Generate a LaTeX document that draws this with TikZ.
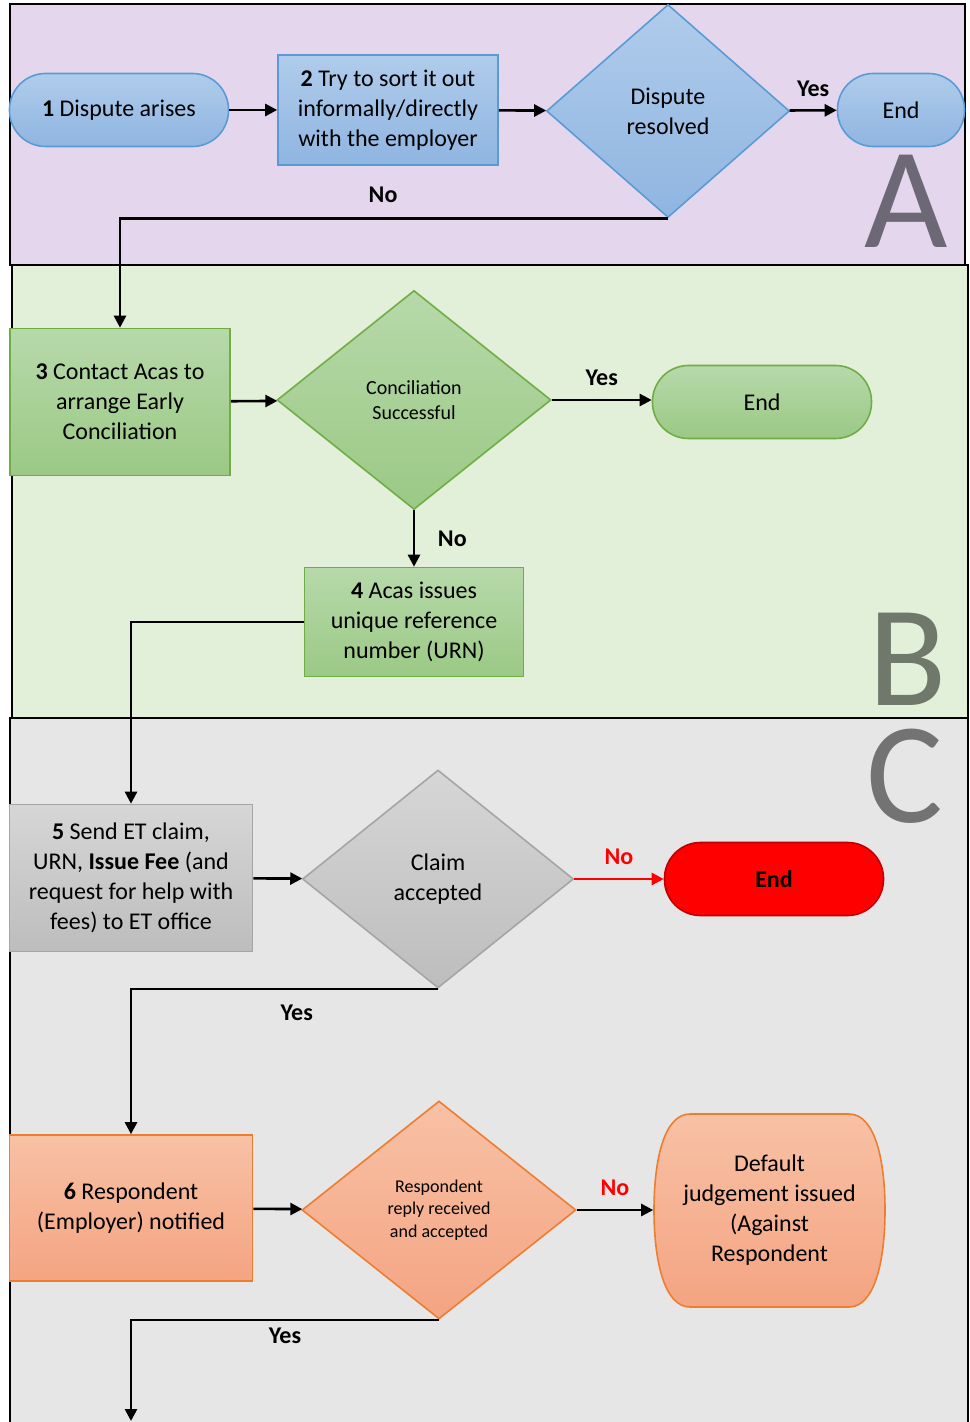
\documentclass[tikz,border=0pt]{standalone}
\usepackage{fontspec}
\setmainfont{Carlito}
\usetikzlibrary{shapes.geometric, arrows.meta, positioning}
\definecolor{bandA}{HTML}{E4D7ED}
\definecolor{bandB}{HTML}{E2EFD9}
\definecolor{bandC}{HTML}{E6E6E6}
\definecolor{blueTop}{HTML}{B0CCEB}
\definecolor{blueBot}{HTML}{8FB5E1}
\definecolor{blueLine}{HTML}{5B9BD5}
\definecolor{greenTop}{HTML}{B7D9AA}
\definecolor{greenBot}{HTML}{9BC985}
\definecolor{greenLine}{HTML}{70AD47}
\definecolor{greyTop}{HTML}{D6D6D6}
\definecolor{greyBot}{HTML}{BDBDBD}
\definecolor{greyLine}{HTML}{A5A5A5}
\definecolor{orangeTop}{HTML}{F8C1A5}
\definecolor{orangeBot}{HTML}{F4A482}
\definecolor{orangeLine}{HTML}{ED7D31}
\definecolor{endRed}{HTML}{FF0000}
\definecolor{endRedLine}{HTML}{C00000}
\definecolor{letterA}{HTML}{6D6875}
\definecolor{letterB}{HTML}{6F786B}
\definecolor{letterC}{HTML}{737373}
\tikzset{
    startstop/.style={rectangle, rounded corners=18pt, minimum width=109.5pt,
                      minimum height=36.5pt, align=center, line width=0.8pt,
                      font=\fontsize{12}{15}\selectfont},
    activity/.style={rectangle, align=center, line width=0.8pt,
                     font=\fontsize{12}{15}\selectfont},
    decision/.style={diamond, inner sep=0pt, align=center, line width=0.8pt,
                     font=\fontsize{12}{15}\selectfont},
    bluefill/.style={draw=blueLine, top color=blueTop, bottom color=blueBot},
    greenfill/.style={draw=greenLine, top color=greenTop, bottom color=greenBot},
    greyfill/.style={draw=greyLine, top color=greyTop, bottom color=greyBot},
    orangefill/.style={draw=orangeLine, top color=orangeTop, bottom color=orangeBot},
    arrow/.style={-{Triangle[length=6pt, width=6pt]}, line width=1.3pt},
    lbl/.style={font=\bfseries\fontsize{12}{14}\selectfont},
    band/.style={draw=black, line width=0.8pt},
    bigletter/.style={font=\fontsize{72}{72}\selectfont, inner sep=0pt},
}

\begin{document}
\begin{tikzpicture}[x=0.5pt, y=-0.5pt]

    \useasboundingbox (0,0) rectangle (969,1422);

    % stage bands
    \draw[band, fill=bandA] (10,4) rectangle (965,265);
    \draw[band, fill=bandB] (12,265) rectangle (968,718);
    \fill[bandC] (10,718) rectangle (968,1422);
    \draw[band] (10,1422) -- (10,718) -- (968,718) -- (968,1422);

    \node[bigletter, text=letterA] (stageA) at (906,201) {A};
    \node[bigletter, text=letterB] (stageB) at (908,659) {B};
    \node[bigletter, text=letterC] (stageC) at (905,776) {C};

    % stage A
    \node[startstop, bluefill] (dispute) at (119,110) {\textbf{1} Dispute arises};
    \node[activity, bluefill, minimum width=110pt, minimum height=55pt]
        (informal) at (388,110) {\textbf{2} Try to sort it out\\informally/directly\\with the employer};
    \node[decision, bluefill, minimum width=121.5pt, minimum height=106.5pt]
        (resolved) at (668,111) {Dispute\\resolved};
    \node[startstop, bluefill, minimum width=63.5pt] (endA) at (901,110) {End};

    % stage B
    \node[activity, greenfill, minimum width=110pt, minimum height=73.5pt]
        (acas) at (120,402) {\textbf{3} Contact Acas to\\arrange Early\\Conciliation};
    \node[decision, greenfill, minimum width=137pt, minimum height=109.5pt,
        font=\fontsize{10}{12.5}\selectfont]
        (concil) at (414,400) {Conciliation\\Successful};
    \node[startstop, greenfill] (endB) at (762,402) {End};
    \node[activity, greenfill, minimum width=109.5pt, minimum height=54.5pt]
        (urn) at (414,622) {\textbf{4} Acas issues\\unique reference\\number (URN)};

    % stage C
    \node[activity, greyfill, minimum width=121.5pt, minimum height=73.5pt]
        (sendclaim) at (131,878) {\textbf{5} Send ET claim,\\URN, \textbf{Issue Fee} (and\\request for help with\\fees) to ET office};
    \node[decision, greyfill, minimum width=135.5pt, minimum height=109pt]
        (accepted) at (438,879) {Claim\\accepted};
    \node[startstop, draw=endRedLine, fill=endRed] (endC) at (774,879) {\textbf{End}};

    \node[activity, orangefill, minimum width=121.5pt, minimum height=73pt]
        (notified) at (131,1208) {\textbf{6} Respondent\\(Employer) notified};
    \node[decision, orangefill, minimum width=137pt, minimum height=109pt,
        font=\fontsize{9}{11.2}\selectfont]
        (reply) at (439,1210) {Respondent\\reply received\\and accepted};
    % bulging terminator outline for the default judgement
    \draw[orangefill, line width=0.8pt] (690,1114) -- (849,1114)
        .. controls (875,1114) and (885,1160) .. (885,1210)
        .. controls (885,1260) and (875,1307) .. (849,1307) -- (690,1307)
        .. controls (664,1307) and (654,1260) .. (654,1210)
        .. controls (654,1160) and (664,1114) .. cycle;
    \node[activity, minimum width=115.5pt, minimum height=96.5pt]
        (default) at (769.5,1210) {Default\\judgement issued\\(Against\\Respondent};
    \coordinate (onward) at (131,1421);

    % connectors
    \draw[arrow] (dispute) -- (informal);
    \draw[arrow] (informal) -- (resolved);
    \draw[arrow] (resolved) -- node[lbl, above=3pt] {Yes} (endA);
    \draw[arrow] (resolved.south) -- node[lbl, above=4pt, pos=0.52] {No} (resolved.south -| acas) -- (acas.north);

    \draw[arrow] (acas) -- (concil);
    \draw[arrow] (concil.east) -- node[lbl, above=3pt] {Yes} (concil.east -| endB.west);
    \draw[arrow] (concil) -- node[lbl, right=8pt] {No} (urn);
    \draw[arrow] (urn.west) -- (urn.west -| sendclaim) -- (sendclaim.north);

    \draw[arrow] (sendclaim) -- (accepted);
    \draw[arrow, endRed] (accepted) -- node[lbl, text=endRed, above=3pt] {No} (endC);
    \draw[arrow] (accepted.south) -- node[lbl, below=4pt, pos=0.46] {Yes} (accepted.south -| notified) -- (notified.north);

    \draw[arrow] (notified) -- (reply);
    \draw[arrow] (reply) -- node[lbl, text=endRed, above=3pt] {No} (default);
    \draw[arrow] (reply.south) -- node[lbl, below=0pt] {Yes} (reply.south -| notified) -- (onward);

\end{tikzpicture}
\end{document}
